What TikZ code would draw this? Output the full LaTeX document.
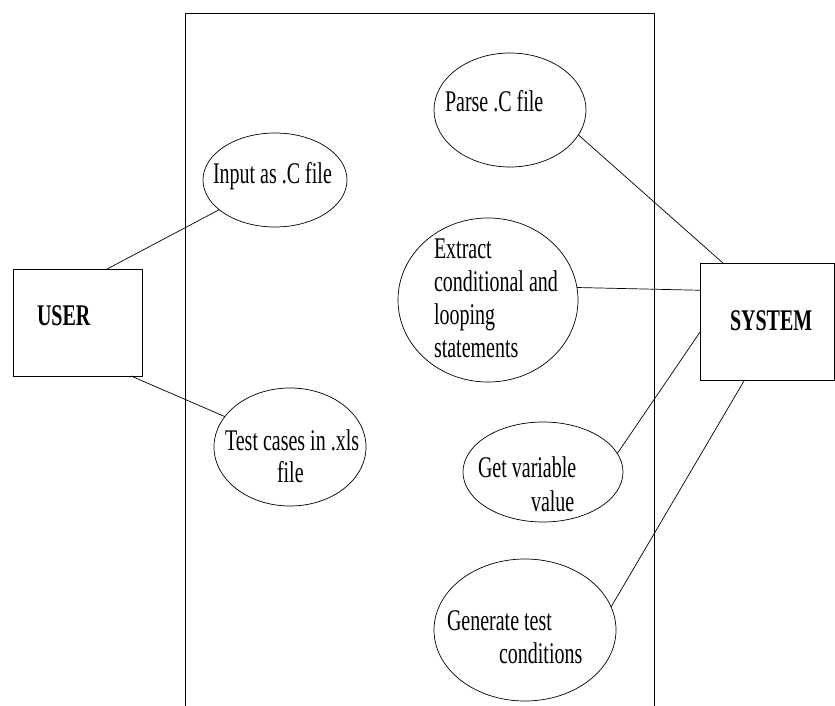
\documentclass[tikz,border=0pt]{standalone}
\usepackage{fontspec}
\setmainfont{Liberation Serif}
\usetikzlibrary{shapes.geometric}
\newcommand{\vstretch}[1]{\scalebox{1}[1.5]{#1}}
\begin{document}
\begin{tikzpicture}[x=1pt,y=-1pt,
  uc/.style={ellipse,draw,line width=0.7pt,inner sep=0pt,outer sep=0pt},
  actor/.style={rectangle,draw,line width=0.9pt,inner sep=0pt,outer sep=0pt},
  lbl/.style={anchor=base west,inner sep=0pt,outer sep=0pt,font=\fontsize{20}{24}\selectfont},
  conn/.style={line width=0.7pt}]
\useasboundingbox (0,0) rectangle (835,706);
% system boundary (open at bottom)
\draw[line width=0.9pt] (185,706) -- (185,13) -- (654,13) -- (654,706);

% actors
\node[actor,minimum width=129pt,minimum height=107pt] (user) at (77.5,322.5) {};
\node[lbl] (tuser) at (37,325) {\vstretch{\bfseries USER}};
\begin{scope}
\clip (0,0) rectangle (835,706);
\node[actor,minimum width=134pt,minimum height=117pt] (sys) at (767,321.5) {};
\end{scope}
\node[lbl] (tsys) at (730,330) {\vstretch{\bfseries SYSTEM}};

% use cases
\node[uc,minimum width=144pt,minimum height=94pt] (input) at (275,180) {};
\node[lbl] (tinput) at (213,183) {\vstretch{Input as .C file}};

\node[uc,minimum width=152pt,minimum height=118pt] (tests) at (290,447) {};
\node[lbl] (ttests1) at (225,450) {\vstretch{Test cases in .xls}};
\node[lbl] (ttests2) at (277,482) {\vstretch{file}};

\node[uc,minimum width=152pt,minimum height=114pt] (parse) at (510,110) {};
\node[lbl] (tparse) at (445,112) {\vstretch{Parse .C file}};

\node[uc,minimum width=180pt,minimum height=164pt] (extract) at (488,300) {};
\node[lbl] (textract1) at (434,258) {\vstretch{Extract}};
\node[lbl] (textract2) at (434,291) {\vstretch{conditional and}};
\node[lbl] (textract3) at (434,324) {\vstretch{looping}};
\node[lbl] (textract4) at (434,357) {\vstretch{statements}};

\node[uc,minimum width=160pt,minimum height=100pt] (getvar) at (543,472) {};
\node[lbl] (tgetvar1) at (478,477) {\vstretch{Get variable}};
\node[lbl] (tgetvar2) at (531,511) {\vstretch{value}};

\node[uc,minimum width=182pt,minimum height=142pt] (gen) at (525,630) {};
\node[lbl] (tgen1) at (447,630) {\vstretch{Generate test}};
\node[lbl] (tgen2) at (499,663) {\vstretch{conditions}};

% connectors
\draw[conn] (user.61) -- (input.208);
\draw[conn] (user.-45) -- (tests.155);
\draw[conn] (parse.-20) -- (sys.127);
\draw[conn] (extract.8) -- (sys.155.5);
\draw[conn] (getvar.14) -- (sys.189.7);
\draw[conn] (gen.15) -- (sys.249.4);
\end{tikzpicture}
\end{document}
